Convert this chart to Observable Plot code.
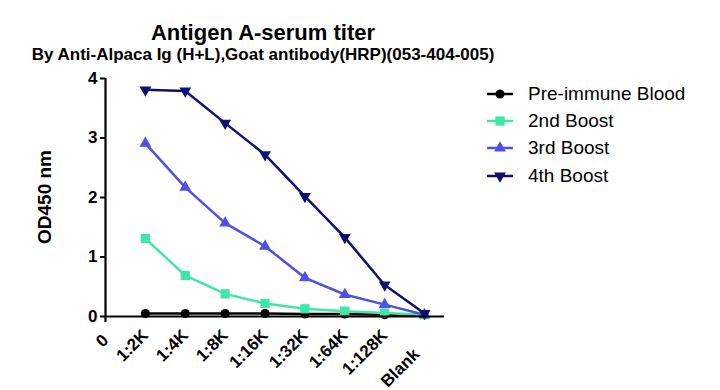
<!DOCTYPE html>
<html>
<head>
<meta charset="utf-8">
<script src="https://cdn.jsdelivr.net/npm/d3@7"></script>
<script src="https://cdn.jsdelivr.net/npm/@observablehq/plot@0.6"></script>
<style>
  body { margin: 0; background: #fff; }
  #wrap { position: relative; width: 720px; height: 390px; font-family: "Liberation Sans", Arial, sans-serif; overflow: hidden; }
  .title { position: absolute; left: 0; width: 526px; text-align: center; font-weight: bold; color: #000; white-space: nowrap; }
  #t1 { top: 22px; font-size: 22px; line-height: 22px; }
  #t2 { top: 46px; font-size: 17px; line-height: 17px; }
  #chart { position: absolute; left: 0; top: 64px; width: 720px; }
  #ylab { position: absolute; left: 45px; top: 197px; transform: translate(-50%, -50%) rotate(-90deg); font-size: 19px; font-weight: bold; white-space: nowrap; }
  #legend { position: absolute; left: 486px; top: 80px; }
  .row { display: flex; align-items: center; height: 27.3px; }
  .row svg { margin-right: 14px; }
  .row span { font-size: 19px; color: #000; white-space: nowrap; }
</style>
</head>
<body>
<div id="wrap">
  <div class="title" id="t1">Antigen A-serum titer</div>
  <div class="title" id="t2">By Anti-Alpaca Ig (H+L),Goat antibody(HRP)(053-404-005)</div>
  <div id="chart"></div>
  <div id="ylab">OD450 nm</div>
  <div id="legend"></div>
</div>
<script>
// ---- data ----
const dilutions = ["1:2K", "1:4K", "1:8K", "1:16K", "1:32K", "1:64K", "1:128K", "Blank"];
const xTickLabels = ["0", "1:2K", "1:4K", "1:8K", "1:16K", "1:32K", "1:64K", "1:128K", "Blank"];
const yTicks = [0, 1, 2, 3, 4];
const seriesNames = ["Pre-immune Blood", "2nd Boost", "3rd Boost", "4th Boost"];
const preImmune = [0.05, 0.05, 0.05, 0.05, 0.04, 0.04, 0.03, 0.03];
const boost2 = [1.31, 0.69, 0.38, 0.22, 0.13, 0.09, 0.06, 0.03];
const boost3 = [2.91, 2.17, 1.57, 1.18, 0.65, 0.37, 0.20, 0.03];
const boost4 = [3.81, 3.79, 3.25, 2.72, 2.02, 1.33, 0.53, 0.05];
const seriesColors = ["#000000", "#40E5A8", "#5050E3", "#10106E"];

// ---- symbols ----
const triangleDown = {
  draw(ctx, size) {
    const y = -Math.sqrt(size / (3 * Math.sqrt(3)));
    ctx.moveTo(0, -2 * y);
    ctx.lineTo(-Math.sqrt(3) * y, y);
    ctx.lineTo(Math.sqrt(3) * y, y);
    ctx.closePath();
  }
};
const seriesSymbols = [d3.symbolCircle, d3.symbolSquare, d3.symbolTriangle, triangleDown];
const seriesR = [4.5, 5.2, 4.4, 4.4];
const seriesValues = [preImmune, boost2, boost3, boost4];

const series = seriesNames.map((name, s) => ({
  name,
  color: seriesColors[s],
  symbol: seriesSymbols[s],
  r: seriesR[s],
  data: seriesValues[s].map((v, i) => ({ x: i + 1, label: dilutions[i], y: v }))
}));

const marks = [];
for (const sr of series) {
  marks.push(Plot.line(sr.data, { x: "x", y: "y", stroke: sr.color, strokeWidth: 2.5 }));
  marks.push(Plot.dot(sr.data, { x: "x", y: "y", fill: sr.color, stroke: "none", symbol: () => sr.symbol, r: sr.r }));
}

const xFmt = (i) => xTickLabels[i];
const xAxisCommon = { tickFormat: xFmt, tickRotate: -45, tickSize: 0, fontSize: 17, fontWeight: "bold", label: null };

const chart = Plot.plot({
  width: 720,
  height: 326,
  marginTop: 14,
  marginBottom: 74,
  marginLeft: 105,
  marginRight: 276,
  style: { fontFamily: '"Liberation Sans", Arial, sans-serif', background: "#fff", color: "#000", maxWidth: "none" },
  symbol: { type: "identity" },
  x: { type: "linear", domain: [0, 8.5] },
  y: { type: "linear", domain: [0, 4] },
  marks: [
    Plot.axisY({ ticks: yTicks, tickSize: 5, tickPadding: 3, strokeWidth: 2, fontSize: 17, fontWeight: "bold", label: null, tickFormat: d3.format("d") }),
    Plot.axisX({ ...xAxisCommon, ticks: [0], tickPadding: 21 }),
    Plot.axisX({ ...xAxisCommon, ticks: d3.range(1, 8), tickPadding: 16 }),
    Plot.axisX({ ...xAxisCommon, ticks: [8], tickPadding: 35, dx: -8 }),
    ...marks,
    Plot.ruleY([0], { stroke: "#000", strokeWidth: 2.2 }),
    Plot.ruleX([0], { stroke: "#000", strokeWidth: 2.2, insetBottom: -6 })
  ]
});
document.getElementById("chart").appendChild(chart);

// ---- legend ----
const legend = document.getElementById("legend");
series.forEach((sr) => {
  const row = document.createElement("div");
  row.className = "row";
  const svg = d3.create("svg").attr("width", 28).attr("height", 14);
  svg.append("line").attr("x1", 1).attr("x2", 27).attr("y1", 7).attr("y2", 7).attr("stroke", sr.color).attr("stroke-width", 2.5);
  svg.append("path").attr("transform", "translate(14,7)").attr("d", d3.symbol(sr.symbol, sr.r * sr.r * Math.PI)()).attr("fill", sr.color);
  row.appendChild(svg.node());
  const span = document.createElement("span");
  span.textContent = sr.name;
  row.appendChild(span);
  legend.appendChild(row);
});
</script>
</body>
</html>
